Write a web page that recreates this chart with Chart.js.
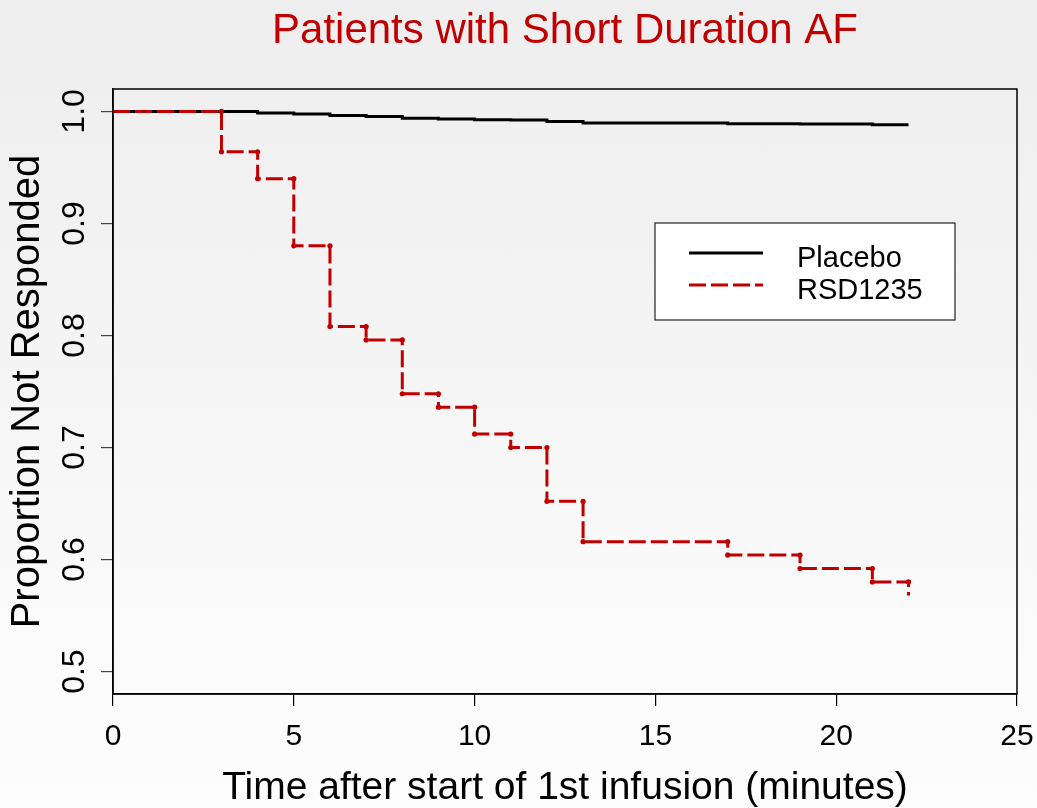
<!DOCTYPE html>
<html>
<head>
<meta charset="utf-8">
<script src="https://cdn.jsdelivr.net/npm/chart.js"></script>
<style>
  html, body { margin: 0; padding: 0; }
  body {
    width: 1037px; height: 808px; overflow: hidden;
    background: linear-gradient(to bottom, #eeeeee 0%, #f2f2f2 30%, #fafafa 75%, #fdfdfd 100%);
  }
  #wrap { position: relative; width: 1037px; height: 808px; }
</style>
</head>
<body>
<div id="wrap"><canvas id="kmChart"></canvas></div>
<script>
  // Kaplan-Meier data
  const placeboTimes = [0, 4, 5, 6, 7, 8, 9, 10, 11, 12, 13, 17, 19, 21, 22];
  const placeboSurv = [1.0, 0.9986, 0.9977, 0.9964, 0.9955, 0.9939, 0.9932, 0.9926, 0.9923, 0.9911, 0.9896, 0.989, 0.9887, 0.9881, 0.9881];

  const rsdTimes = [0, 3, 4, 5, 6, 7, 8, 9, 10, 11, 12, 13, 17, 19, 21, 22];
  const rsdSurv = [1.0, 0.964, 0.94, 0.88, 0.808, 0.796, 0.748, 0.736, 0.712, 0.7, 0.652, 0.616, 0.604, 0.592, 0.58, 0.568];

  const xTicks = [0, 5, 10, 15, 20, 25];
  const yTicks = [0.5, 0.6, 0.7, 0.8, 0.9, 1.0];

  const seriesNames = ['Placebo', 'RSD1235'];
  const chartTitle = 'Patients with Short Duration AF';
  const xTitle = 'Time after start of 1st infusion (minutes)';
  const yTitle = 'Proportion Not Responded';

  const RED = '#c00000';
  const FONT = "'Liberation Sans', Arial, sans-serif";

  // placebo: plain step line
  const placeboPts = placeboTimes.map((t, i) => ({ x: t, y: placeboSurv[i] }));

  // RSD1235: corner points of each step, so dots sit on both corners
  const rsdPts = [{ x: rsdTimes[0], y: rsdSurv[0] }];
  for (let i = 1; i < rsdTimes.length; i++) {
    rsdPts.push({ x: rsdTimes[i], y: rsdSurv[i - 1] });
    rsdPts.push({ x: rsdTimes[i], y: rsdSurv[i] });
  }

  // title, frame and legend drawn by hand
  const decorations = {
    id: 'decorations',
    afterDraw(chart) {
      const { ctx, chartArea: a } = chart;
      ctx.save();
      // frame
      ctx.strokeStyle = '#000';
      ctx.lineWidth = 1.5;
      ctx.strokeRect(a.left, a.top, a.right - a.left, a.bottom - a.top);

      // title centred over the plot
      ctx.fillStyle = RED;
      ctx.font = '42px ' + FONT;
      ctx.textAlign = 'center';
      ctx.textBaseline = 'alphabetic';
      ctx.fillText(chartTitle, (a.left + a.right) / 2, 43);

      // legend box
      const bx = a.left + 542, by = a.top + 134, bw = 300, bh = 97;
      ctx.fillStyle = '#ffffff';
      ctx.fillRect(bx, by, bw, bh);
      ctx.strokeStyle = '#222';
      ctx.lineWidth = 1.2;
      ctx.strokeRect(bx, by, bw, bh);
      ctx.font = '29px ' + FONT;
      ctx.textAlign = 'left';
      chart.data.datasets.forEach((ds, i) => {
        const ly = by + 30 + i * 32;
        ctx.strokeStyle = ds.borderColor;
        ctx.lineWidth = 3;
        ctx.setLineDash(ds.borderDash || []);
        ctx.beginPath();
        ctx.moveTo(bx + 34, ly);
        ctx.lineTo(bx + 108, ly);
        ctx.stroke();
        ctx.setLineDash([]);
        ctx.fillStyle = '#000';
        ctx.fillText(ds.label, bx + 142, ly + 14);
      });
      ctx.restore();
    }
  };

  new Chart(document.getElementById('kmChart'), {
    type: 'line',
    data: {
      datasets: [
        {
          label: seriesNames[0],
          data: placeboPts,
          borderColor: '#000000',
          borderWidth: 3,
          stepped: 'before',
          pointRadius: 0,
          order: 1
        },
        {
          label: seriesNames[1],
          data: rsdPts,
          borderColor: RED,
          backgroundColor: RED,
          borderWidth: 3,
          borderDash: [17, 5],
          pointRadius: (c) => (c.dataIndex === 0 || c.dataIndex === rsdPts.length - 1) ? 0 : 2.6,
          pointBorderWidth: 0,
          pointBackgroundColor: RED,
          order: 0
        }
      ]
    },
    options: {
      responsive: true,
      maintainAspectRatio: false,
      animation: false,
      events: [],
      layout: { padding: { left: 0, right: 20, top: 89, bottom: 0 } },
      plugins: { legend: { display: false }, tooltip: { enabled: false }, title: { display: false } },
      scales: {
        x: {
          type: 'linear',
          min: 0,
          max: 25,
          afterBuildTicks: (s) => { s.ticks = xTicks.map(v => ({ value: v })); },
          afterFit: (s) => { s.height = 114; s.paddingLeft = 0; s.paddingRight = 0; },
          grid: { drawOnChartArea: false, drawTicks: true, tickLength: 12, color: '#000', lineWidth: 1.2 },
          border: { color: '#000', width: 1.5 },
          ticks: { color: '#000', font: { family: FONT, size: 30 }, padding: 13, maxRotation: 0 },
          title: {
            display: true, text: xTitle, color: '#000',
            font: { family: FONT, size: 39, lineHeight: 1 },
            padding: { top: 0, bottom: 0 }
          }
        },
        y: {
          type: 'linear',
          min: 0.48,
          max: 1.02,
          afterBuildTicks: (s) => { s.ticks = yTicks.map(v => ({ value: v })); },
          afterFit: (s) => { s.width = 113; },
          grid: { drawOnChartArea: false, drawTicks: true, tickLength: 12, color: '#444', lineWidth: 1.2 },
          border: { color: '#000', width: 1.5 },
          ticks: {
            color: '#000', font: { family: FONT, size: 32 }, padding: 4,
            minRotation: 90, maxRotation: 90, crossAlign: 'center',
            callback: (v) => Number(v).toFixed(1)
          },
          title: {
            display: true, text: yTitle, color: '#000',
            font: { family: FONT, size: 40, lineHeight: 1 },
            padding: { top: 8, bottom: 0 }
          }
        }
      }
    },
    plugins: [decorations]
  });
</script>
</body>
</html>
